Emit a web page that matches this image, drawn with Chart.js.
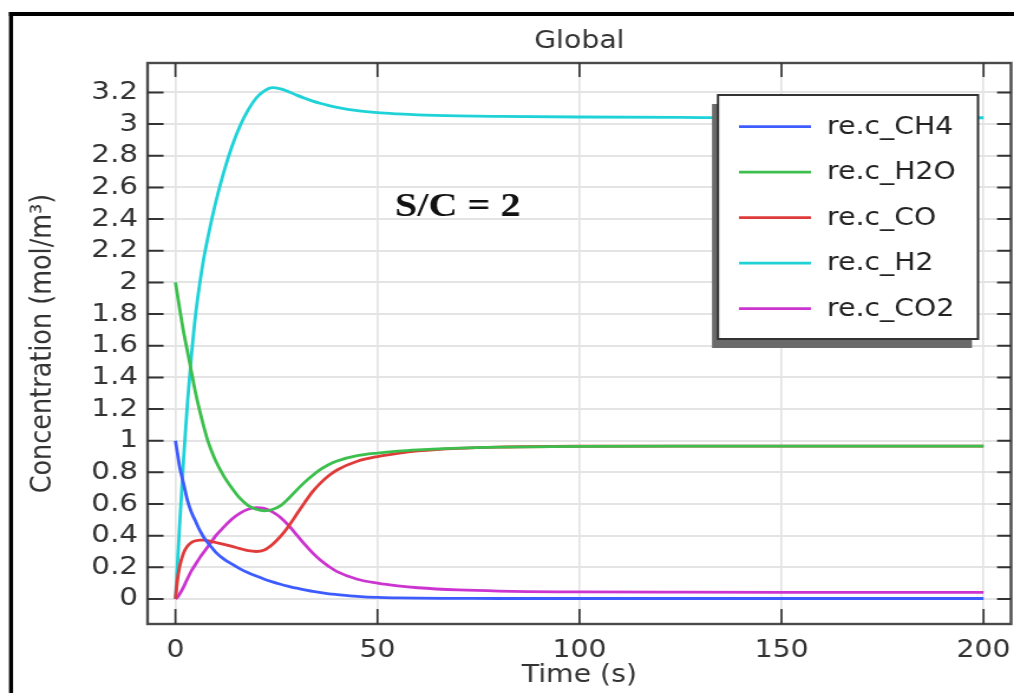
<!DOCTYPE html>
<html>
<head>
<meta charset="utf-8">
<script src="https://cdn.jsdelivr.net/npm/chart.js@4.4.1/dist/chart.umd.min.js"></script>
<style>
  html, body { margin: 0; padding: 0; background: #ffffff; overflow: hidden; }
</style>
</head>
<body>
<canvas id="plot" width="859" height="693" style="display:block;width:1014px;height:693px"></canvas>
<script>
// Simulation time (s)
const times = [0, 0.5, 1, 2, 3, 4, 5, 6, 7, 8, 9, 10, 12, 14, 16, 18, 20, 22, 24, 26, 28, 30, 32, 34, 36, 38, 40, 45, 50, 55, 60, 70, 80, 100, 125, 150, 175, 200];

// Species concentrations (mol/m^3)
const cCH4 = [1.0, 0.92, 0.84, 0.73, 0.62, 0.545, 0.49, 0.435, 0.39, 0.355, 0.325, 0.295, 0.252, 0.22, 0.19, 0.166, 0.145, 0.125, 0.108, 0.093, 0.08, 0.068, 0.058, 0.048, 0.04, 0.033, 0.028, 0.017, 0.01, 0.007, 0.005, 0.004, 0.003, 0.003, 0.003, 0.003, 0.003, 0.003];
const cH2O = [2.0, 1.92, 1.84, 1.69, 1.56, 1.43, 1.3, 1.19, 1.09, 1.0, 0.93, 0.87, 0.775, 0.70, 0.635, 0.59, 0.567, 0.557, 0.565, 0.59, 0.635, 0.688, 0.738, 0.782, 0.82, 0.85, 0.872, 0.905, 0.922, 0.934, 0.942, 0.953, 0.959, 0.964, 0.966, 0.966, 0.966, 0.966];
const cCO  = [0, 0.12, 0.2, 0.29, 0.335, 0.358, 0.368, 0.372, 0.372, 0.368, 0.363, 0.357, 0.345, 0.332, 0.318, 0.305, 0.30, 0.31, 0.345, 0.395, 0.46, 0.535, 0.61, 0.68, 0.735, 0.78, 0.815, 0.87, 0.90, 0.92, 0.935, 0.952, 0.96, 0.965, 0.966, 0.966, 0.966, 0.966];
const cH2  = [0, 0.22, 0.45, 0.88, 1.25, 1.55, 1.8, 1.99, 2.15, 2.28, 2.4, 2.51, 2.7, 2.86, 2.99, 3.09, 3.165, 3.21, 3.23, 3.222, 3.205, 3.183, 3.163, 3.145, 3.13, 3.117, 3.106, 3.085, 3.072, 3.064, 3.058, 3.052, 3.049, 3.045, 3.042, 3.04, 3.04, 3.04];
const cCO2 = [0, 0.012, 0.03, 0.075, 0.13, 0.18, 0.22, 0.26, 0.295, 0.33, 0.365, 0.4, 0.455, 0.505, 0.543, 0.567, 0.577, 0.572, 0.55, 0.515, 0.465, 0.405, 0.345, 0.29, 0.243, 0.205, 0.173, 0.125, 0.1, 0.083, 0.071, 0.057, 0.05, 0.045, 0.043, 0.042, 0.042, 0.042];

const seriesNames = ['re.c_CH4', 're.c_H2O', 're.c_CO', 're.c_H2', 're.c_CO2'];
const seriesColors = ['#3d5cff', '#3cbf4c', '#e03a3a', '#1ed2d8', '#cc34d0'];

// Axis ticks
const xTicks = [0, 50, 100, 150, 200];
const yTicks = [0, 0.2, 0.4, 0.6, 0.8, 1, 1.2, 1.4, 1.6, 1.8, 2, 2.2, 2.4, 2.6, 2.8, 3, 3.2];

const plotTitle = 'Global';
const xTitle = 'Time (s)';
const yTitle = 'Concentration (mol/m\u00B3)';
const noteText = 'S/C = 2';

const FONT = '"DejaVu Sans", "Liberation Sans", sans-serif';
// the canvas is drawn narrower and widened by CSS; this is the widening factor
const SX = 1014 / 859;

const toPoints = vals => times.map((t, i) => ({ x: t, y: vals[i] }));
const seriesValues = [cCH4, cH2O, cCO, cH2, cCO2];

const datasets = seriesValues.map((vals, i) => ({
  label: seriesNames[i],
  data: toPoints(vals),
  borderColor: seriesColors[i],
  backgroundColor: seriesColors[i],
  borderWidth: 2.8,
  pointRadius: 0,
  cubicInterpolationMode: 'monotone',
  fill: false
}));

// Frame, inward ticks, note and boxed legend with drop shadow
const decorations = {
  id: 'decorations',
  afterDatasetsDraw(chart) {
    const { ctx, chartArea: a, scales } = chart;
    const xs = scales.x, ys = scales.y;
    ctx.save();
    // plot border
    ctx.strokeStyle = '#4a4a4a';
    ctx.lineWidth = 2.4;
    ctx.strokeRect(a.left, a.top, a.right - a.left, a.bottom - a.top);
    // inward tick marks
    ctx.strokeStyle = '#333333';
    ctx.lineWidth = 2 / SX;
    xTicks.forEach(v => {
      const px = xs.getPixelForValue(v);
      ctx.beginPath();
      ctx.moveTo(px, a.top); ctx.lineTo(px, a.top + 14);
      ctx.moveTo(px, a.bottom); ctx.lineTo(px, a.bottom - 15);
      ctx.stroke();
    });
    ctx.lineWidth = 2;
    yTicks.forEach(v => {
      const py = ys.getPixelForValue(v);
      ctx.beginPath();
      ctx.moveTo(a.left, py); ctx.lineTo(a.left + 16 / SX, py);
      ctx.moveTo(a.right, py); ctx.lineTo(a.right - 14 / SX, py);
      ctx.stroke();
    });
    // annotation
    ctx.fillStyle = '#111111';
    ctx.font = 'bold 34px "Liberation Serif", "Times New Roman", serif';
    ctx.textAlign = 'left';
    ctx.textBaseline = 'alphabetic';
    ctx.fillText(noteText, 395 / SX, 216);

    // legend box
    const bx = 718 / SX, by = 95, bw = 260 / SX, bh = 244;
    ctx.fillStyle = '#6a6a6a';
    ctx.fillRect(bx - 6 / SX, by + 9, bw, bh);
    ctx.fillStyle = '#ffffff';
    ctx.fillRect(bx, by, bw, bh);
    ctx.strokeStyle = '#333333';
    ctx.lineWidth = 2;
    ctx.strokeRect(bx, by, bw, bh);
    ctx.font = '24px ' + FONT;
    ctx.textBaseline = 'middle';
    chart.data.datasets.forEach((ds, i) => {
      const ry = 126.7 + i * 45.5;
      ctx.strokeStyle = ds.borderColor;
      ctx.lineWidth = 2.8;
      ctx.beginPath();
      ctx.moveTo(739 / SX, ry);
      ctx.lineTo(811 / SX, ry);
      ctx.stroke();
      ctx.fillStyle = '#222222';
      ctx.fillText(ds.label, 827 / SX, ry + 1);
    });
    ctx.restore();
  },
  afterDraw(chart) {
    const { ctx, width, height } = chart;
    ctx.save();
    ctx.strokeStyle = '#000000';
    ctx.lineWidth = 4;
    ctx.beginPath();
    ctx.moveTo(9 / SX, 14); ctx.lineTo(width, 14);
    ctx.stroke();
    ctx.lineWidth = 4 / SX;
    ctx.beginPath();
    ctx.moveTo(11 / SX, 12); ctx.lineTo(11 / SX, height);
    ctx.stroke();
    ctx.restore();
  }
};

const plotCanvas = document.getElementById('plot');
new Chart(plotCanvas, {
  type: 'line',
  data: { datasets },
  plugins: [decorations],
  options: {
    responsive: false,
    devicePixelRatio: 1,
    animation: false,
    layout: { padding: { top: 0, left: 0, right: 2.5, bottom: 0 } },
    plugins: {
      legend: { display: false },
      tooltip: { enabled: false },
      title: {
        display: true,
        fullSize: false,
        text: plotTitle,
        color: '#333333',
        font: { family: FONT, size: 24, weight: 'normal' },
        padding: { top: 27, bottom: 7.2 }
      }
    },
    scales: {
      x: {
        type: 'linear',
        min: -6.9,
        max: 206.8,
        afterBuildTicks: s => { s.ticks = xTicks.map(v => ({ value: v })); },
        afterFit: s => { s.height = 69; s.paddingLeft = 0; s.paddingRight = 0; },
        ticks: {
          autoSkip: false,
          maxRotation: 0,
          padding: 12,
          color: '#333333',
          font: { family: FONT, size: 24 },
          callback: v => String(v)
        },
        grid: { color: '#e4e4e4', lineWidth: 2 / SX, drawTicks: false },
        border: { display: false },
        title: {
          display: true,
          text: xTitle,
          color: '#333333',
          font: { family: FONT, size: 24 },
          padding: { top: 0, bottom: 3 }
        }
      },
      y: {
        type: 'linear',
        min: -0.158,
        max: 3.386,
        afterBuildTicks: s => { s.ticks = yTicks.map(v => ({ value: v })); },
        afterFit: s => { s.width = 125; s.paddingTop = 0; s.paddingBottom = 0; },
        ticks: {
          autoSkip: false,
          padding: 8,
          color: '#333333',
          font: { family: FONT, size: 25 },
          callback: v => String(v)
        },
        grid: { color: '#e4e4e4', lineWidth: 2, drawTicks: false },
        border: { display: false },
        title: {
          display: true,
          text: yTitle,
          color: '#333333',
          font: { family: FONT, size: 25.5 },
          padding: { top: 21, bottom: 0 }
        }
      }
    }
  }
});
// keep the widened display size
plotCanvas.style.width = '1014px';
plotCanvas.style.height = '693px';
</script>
</body>
</html>
